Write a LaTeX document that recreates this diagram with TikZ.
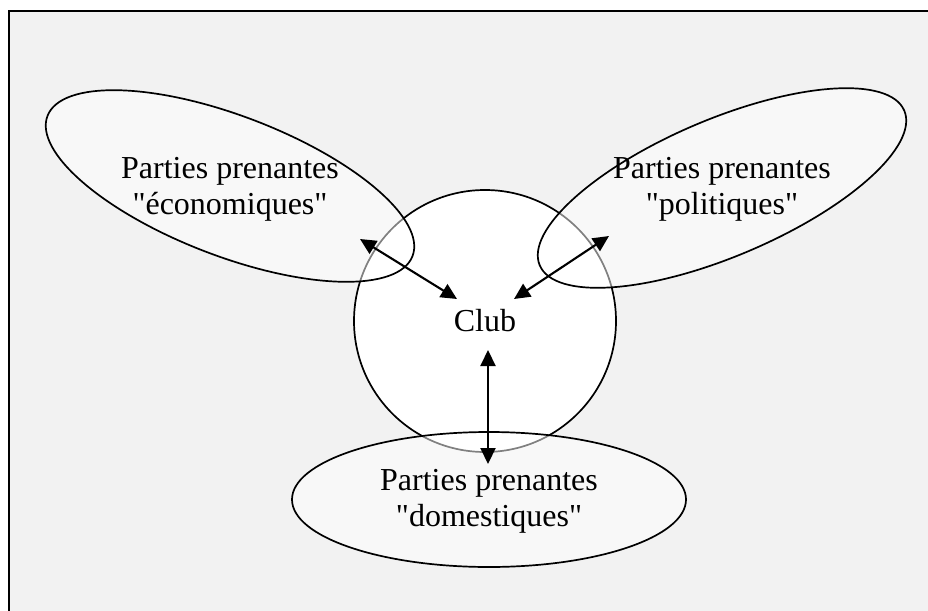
\documentclass[tikz,border=0pt]{standalone}
\usepackage{fontspec}
\setmainfont{Liberation Serif}[Ligatures=TeXOff]
\usetikzlibrary{shapes.geometric, arrows.meta, positioning}
\definecolor{fond}{HTML}{F2F2F2}

\begin{document}
\begin{tikzpicture}[x=1pt, y=-1pt,
        partie/.style={ellipse, draw, line width=1.7pt, fill=white, fill opacity=0.5, draw opacity=1, inner sep=0pt},
        texte/.style={align=center, font=\fontsize{32}{36}\selectfont},
        lien/.style={{Triangle[length=16pt,width=15pt]}-{Triangle[length=16pt,width=15pt]}, line width=2.1pt}]

        \clip (0,0) rectangle (928,610);
        \draw[fill=fond, line width=1.8pt] (9,11) rectangle (960,640);

        \node[circle, draw, line width=1.7pt, fill=white, minimum size=262pt, inner sep=0pt, texte] (club) at (485,321) {Club};

        \node[partie, minimum width=391pt, minimum height=140pt, rotate=-21] (eco) at (230,186) {};
        \node[partie, minimum width=396pt, minimum height=137pt, rotate=23] (pol) at (722,188) {};
        \node[partie, minimum width=394pt, minimum height=135pt] (dom) at (489,499.5) {};

        \node[texte] (ecotxt) at ([yshift=-3pt]eco) {Parties prenantes\\"économiques"};
        \node[texte] (poltxt) at ([yshift=-1pt]pol) {Parties prenantes\\"politiques"};
        \node[texte] (domtxt) at ([yshift=-2pt]dom) {Parties prenantes\\"domestiques"};

        \coordinate (eco-bout) at (360,239);
        \coordinate (club-eco) at (457,299);
        \coordinate (pol-bout) at (609,236);
        \coordinate (club-pol) at (514,299);
        \coordinate (club-dom) at (488,350);
        \coordinate (dom-bout) at (488,464);

        \draw[lien] (eco-bout) -- (club-eco);
        \draw[lien] (club-pol) -- (pol-bout);
        \draw[lien] (club-dom) -- (dom-bout);

    \end{tikzpicture}
\end{document}
